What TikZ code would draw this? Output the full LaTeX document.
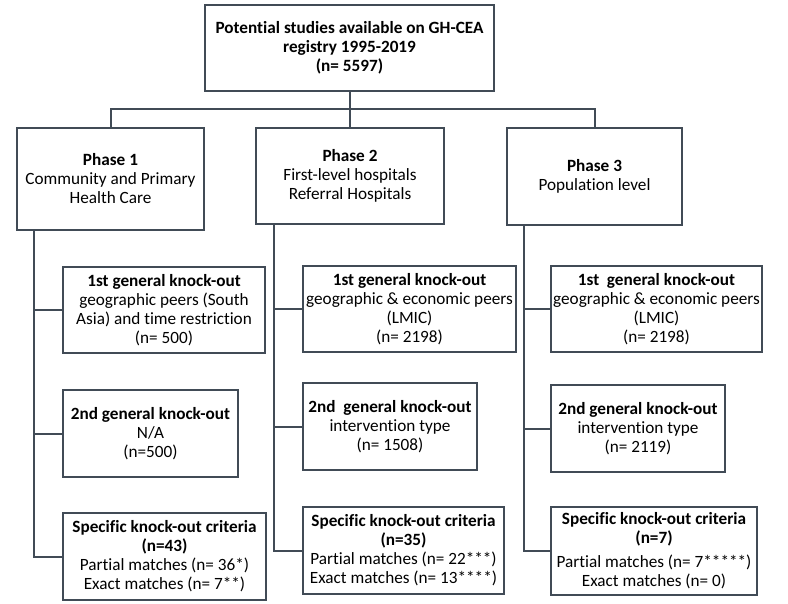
\documentclass[tikz,border=0pt]{standalone}
\usepackage{fontspec}
\setmainfont{Carlito}[Ligatures=NoCommon]
\usetikzlibrary{calc}
\definecolor{edge}{HTML}{414B56}
\tikzset{
  box/.style={draw=edge, line width=2pt, fill=white, inner sep=0pt, align=center,
    font=\fontsize{17.2}{19}\selectfont},
  link/.style={draw=edge, line width=2pt},
}
\begin{document}
\begin{tikzpicture}[x=1pt,y=-1pt]
\useasboundingbox (0,0) rectangle (788,604);
\node[box, minimum width=289, minimum height=86] (top) at (349.5,48)
  {\textbf{Potential studies available on GH-CEA}\\\textbf{registry 1995-2019}\\\textbf{(n= 5597)}};
\node[box, minimum width=187, minimum height=102] (p1) at (110.5,179)
  {\textbf{Phase 1}\\Community and Primary\\Health Care};
\node[box, minimum width=188, minimum height=96] (p2) at (350,176)
  {\textbf{Phase 2}\\First-level hospitals\\Referral Hospitals};
\node[box, minimum width=175, minimum height=97] (p3) at (594.5,176.5)
  {\textbf{Phase 3}\\Population level};
% phase 1 column
\node[box, minimum width=202, minimum height=86] (a1) at (164,310)
  {\textbf{1st general knock-out}\\geographic peers (South\\Asia) and time restriction\\(n= 500)};
\node[box, minimum width=175, minimum height=87] (b1) at (150.5,433.5)
  {\textbf{2nd general knock-out}\\N/A\\(n=500)};
\node[box, minimum width=203, minimum height=87] (c1) at (164.5,556.5)
  {\textbf{Specific knock-out criteria}\\\textbf{(n=43)}\\Partial matches (n= 36*)\\Exact matches (n= 7**)};
% phase 2 column
\node[box, minimum width=213, minimum height=86] (a2) at (409.5,309)
  {\textbf{1st general knock-out}\\geographic \& economic peers\\(LMIC)\\(n= 2198)};
\node[box, minimum width=174, minimum height=87] (b2) at (390,426.5)
  {\textbf{2nd\ \ general knock-out}\\intervention type\\(n= 1508)};
\node[box, minimum width=201, minimum height=87] (c2) at (403.5,550.5)
  {\textbf{Specific knock-out criteria}\\\textbf{(n=35)}\\Partial matches (n= 22***)\\Exact matches (n= 13****)};
% phase 3 column
\node[box, minimum width=211, minimum height=86] (a3) at (656.5,309)
  {\textbf{1st\ \ general knock-out}\\geographic \& economic peers\\(LMIC)\\(n= 2198)};
\node[box, minimum width=174, minimum height=87] (b3) at (638,428.5)
  {\textbf{2nd general knock-out}\\intervention type\\(n= 2119)};
\node[box, minimum width=206, minimum height=88] (c3) at (654,551)
  {\textbf{Specific knock-out criteria}\\\textbf{(n=7)}\\[5pt]Partial matches (n= 7*****)\\Exact matches (n= 0)};
% top bus
\coordinate (bus) at (350,109);
\draw[link] (top.south) -- (top.south |- bus);
\draw[link] (p1.north) -- (p1.north |- bus) -| (p3.north);
\draw[link] (p2.north) -- (p2.north |- bus);
% phase trunks
\coordinate (t1) at ($(p1.south west)+(18,0)$);
\coordinate (t2) at ($(p2.south west)+(19,0)$);
\coordinate (t3) at ($(p3.south west)+(18,0)$);
\draw[link] (t1) -- (t1 |- c1.west) -- (c1.west);
\draw[link] (t1 |- a1.west) -- (a1.west);
\draw[link] (t1 |- b1.west) -- (b1.west);
\draw[link] (t2) -- (t2 |- c2.west) -- (c2.west);
\draw[link] (t2 |- a2.west) -- (a2.west);
\draw[link] (t2 |- b2.west) -- (b2.west);
\draw[link] (t3) -- (t3 |- c3.west) -- (c3.west);
\draw[link] (t3 |- a3.west) -- (a3.west);
\draw[link] (t3 |- b3.west) -- (b3.west);
\end{tikzpicture}
\end{document}
